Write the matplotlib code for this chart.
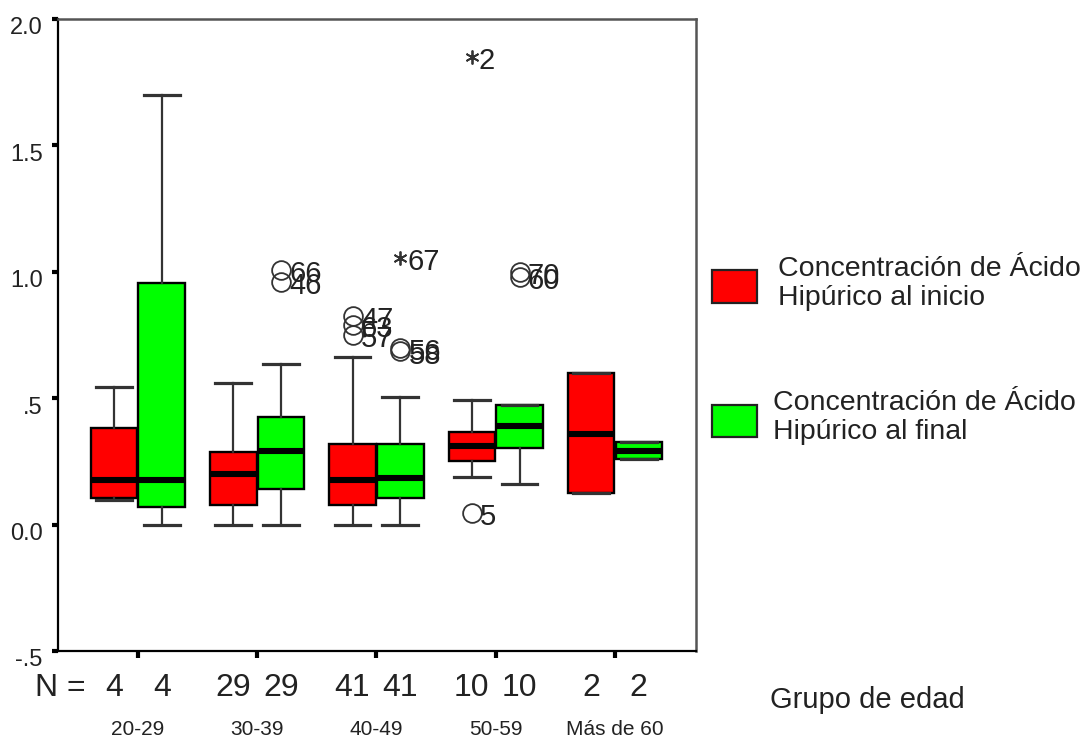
import matplotlib
matplotlib.use("Agg")
import matplotlib.pyplot as plt
import matplotlib.transforms as mtransforms
from matplotlib.patches import Rectangle
import numpy as np

# -----------------------------------
# DATA
# -----------------------------------

grupos = ["20-29", "30-39", "40-49", "50-59", "Más de 60"]

n_inicio = [4, 29, 41, 10, 2]
n_final = [4, 29, 41, 10, 2]

# concentración al inicio (rojo)
inicio_q1 = [0.104, 0.079, 0.079, 0.250, 0.123]
inicio_med = [0.175, 0.201, 0.177, 0.311, 0.358]
inicio_q3 = [0.382, 0.287, 0.320, 0.366, 0.600]
inicio_lo = [0.099, 0.000, 0.000, 0.188, 0.123]
inicio_hi = [0.545, 0.561, 0.661, 0.492, 0.600]

# concentración al final (verde)
final_q1 = [0.071, 0.142, 0.106, 0.303, 0.260]
final_med = [0.175, 0.291, 0.185, 0.390, 0.291]
final_q3 = [0.956, 0.426, 0.320, 0.472, 0.327]
final_lo = [0.000, 0.000, 0.000, 0.159, 0.260]
final_hi = [1.698, 0.634, 0.503, 0.472, 0.327]

# casos atípicos (o) y extremos (*)
inicio_out_grupo = [2, 2, 2, 3, 3]
inicio_out_valor = [0.825, 0.790, 0.750, 1.850, 0.045]
inicio_out_caso = ["47", "63", "57", "2", "5"]
inicio_out_extremo = [False, False, False, True, False]

final_out_grupo = [1, 1, 2, 2, 2, 3, 3]
final_out_valor = [1.008, 0.960, 1.055, 0.700, 0.685, 1.000, 0.980]
final_out_caso = ["66", "46", "67", "56", "58", "70", "60"]
final_out_extremo = [False, False, True, False, False, False, False]

y_ticks = [-0.5, 0.0, 0.5, 1.0, 1.5, 2.0]
y_tick_labels = ["-.5", "0.0", ".5", "1.0", "1.5", "2.0"]

# -----------------------------------
# STYLE
# -----------------------------------

plt.rcParams["font.family"] = ["Liberation Sans", "DejaVu Sans"]
TXT = "#222222"
ROJO = "#ff0000"
VERDE = "#00ff00"

fig = plt.figure(figsize=(10.86, 7.41), dpi=100)
ax = fig.add_axes([0.0534, 0.1215, 0.5875, 0.853])

x = np.arange(1, len(grupos) + 1)
offset = 0.2
box_w = 0.39


def build_stats(q1, med, q3, lo, hi):
    return [
        dict(q1=a, med=b, q3=c, whislo=d, whishi=e, fliers=[])
        for a, b, c, d, e in zip(q1, med, q3, lo, hi)
    ]


def draw_boxes(stats, pos, color):
    ax.bxp(
        stats,
        positions=pos,
        widths=box_w,
        capwidths=0.3,
        patch_artist=True,
        showfliers=False,
        boxprops=dict(facecolor=color, edgecolor="black", linewidth=1.7),
        medianprops=dict(color="black", linewidth=4.4, solid_capstyle="butt"),
        whiskerprops=dict(color="#333333", linewidth=1.6),
        capprops=dict(color="#333333", linewidth=2.3),
        manage_ticks=False,
        zorder=2,
    )


def draw_outliers(grupo, valor, caso, extremo, shift):
    for g, v, c, e in zip(grupo, valor, caso, extremo):
        xp = x[g] + shift
        if e:
            ax.plot(xp, v, marker=(6, 2, 0), color="#333333",
                    markersize=10, markeredgewidth=1.3, zorder=3)
            dx = 5
        else:
            ax.plot(xp, v, marker="o", markerfacecolor="none",
                    markeredgecolor="#333333", markersize=13.5,
                    markeredgewidth=1.3, zorder=3)
            dx = 6
        ax.annotate(c, (xp, v), xytext=(dx, -3), textcoords="offset points",
                    ha="left", va="center", fontsize=21, color=TXT, zorder=3)


# -----------------------------------
# BOXES
# -----------------------------------

draw_boxes(build_stats(inicio_q1, inicio_med, inicio_q3, inicio_lo, inicio_hi),
           x - offset, ROJO)
draw_boxes(build_stats(final_q1, final_med, final_q3, final_lo, final_hi),
           x + offset, VERDE)

draw_outliers(inicio_out_grupo, inicio_out_valor, inicio_out_caso,
              inicio_out_extremo, -offset)
draw_outliers(final_out_grupo, final_out_valor, final_out_caso,
              final_out_extremo, offset)

# -----------------------------------
# AXES
# -----------------------------------

ax.set_xlim(0.33, 5.68)
ax.set_ylim(-0.5, 2.0)

ax.set_yticks(y_ticks)
ax.set_yticklabels(y_tick_labels, fontsize=17, color=TXT)
ax.set_xticks(x)
ax.set_xticklabels([])

ax.tick_params(axis="y", length=4, width=3, pad=7, color="black")
ax.tick_params(axis="x", length=5, width=3, color="black")

# labels sit a little under their tick marks
shift_down = mtransforms.ScaledTranslation(0, -5 / 72, fig.dpi_scale_trans)
for lab in ax.get_yticklabels():
    lab.set_transform(lab.get_transform() + shift_down)

for side in ["left", "bottom"]:
    ax.spines[side].set_color("black")
    ax.spines[side].set_linewidth(1.6)
for side in ["top", "right"]:
    ax.spines[side].set_color("#555555")
    ax.spines[side].set_linewidth(1.8)

# -----------------------------------
# N ROW + GROUP LABELS
# -----------------------------------

trans = mtransforms.blended_transform_factory(ax.transData, ax.transAxes)

for i in range(len(grupos)):
    ax.text(x[i] - offset, -0.0585, str(n_inicio[i]), transform=trans,
            ha="center", va="center", fontsize=23, color=TXT)
    ax.text(x[i] + offset, -0.0585, str(n_final[i]), transform=trans,
            ha="center", va="center", fontsize=23, color=TXT)
    ax.text(x[i], -0.124, grupos[i], transform=trans,
            ha="center", va="center", fontsize=15, color=TXT)

fig.text(0.032, 0.0715, "N =", ha="left", va="center",
         fontsize=23, color=TXT)

fig.text(0.709, 0.0553, "Grupo de edad", ha="left", va="center",
         fontsize=21, color=TXT)

# -----------------------------------
# LEGEND
# -----------------------------------

fig.add_artist(Rectangle((0.6556, 0.591), 0.0414, 0.0445,
                         transform=fig.transFigure, facecolor=ROJO,
                         edgecolor="#222222", linewidth=1.6))
fig.add_artist(Rectangle((0.6556, 0.4103), 0.0414, 0.0432,
                         transform=fig.transFigure, facecolor=VERDE,
                         edgecolor="#222222", linewidth=1.6))

fig.text(0.7164, 0.618, "Concentración de Ácido\nHipúrico al inicio",
         ha="left", va="center", fontsize=20.5, color=TXT, linespacing=1.15)
fig.text(0.7118, 0.4366, "Concentración de Ácido\nHipúrico al final",
         ha="left", va="center", fontsize=20.5, color=TXT, linespacing=1.15)

fig.savefig("out.png", dpi=100)
